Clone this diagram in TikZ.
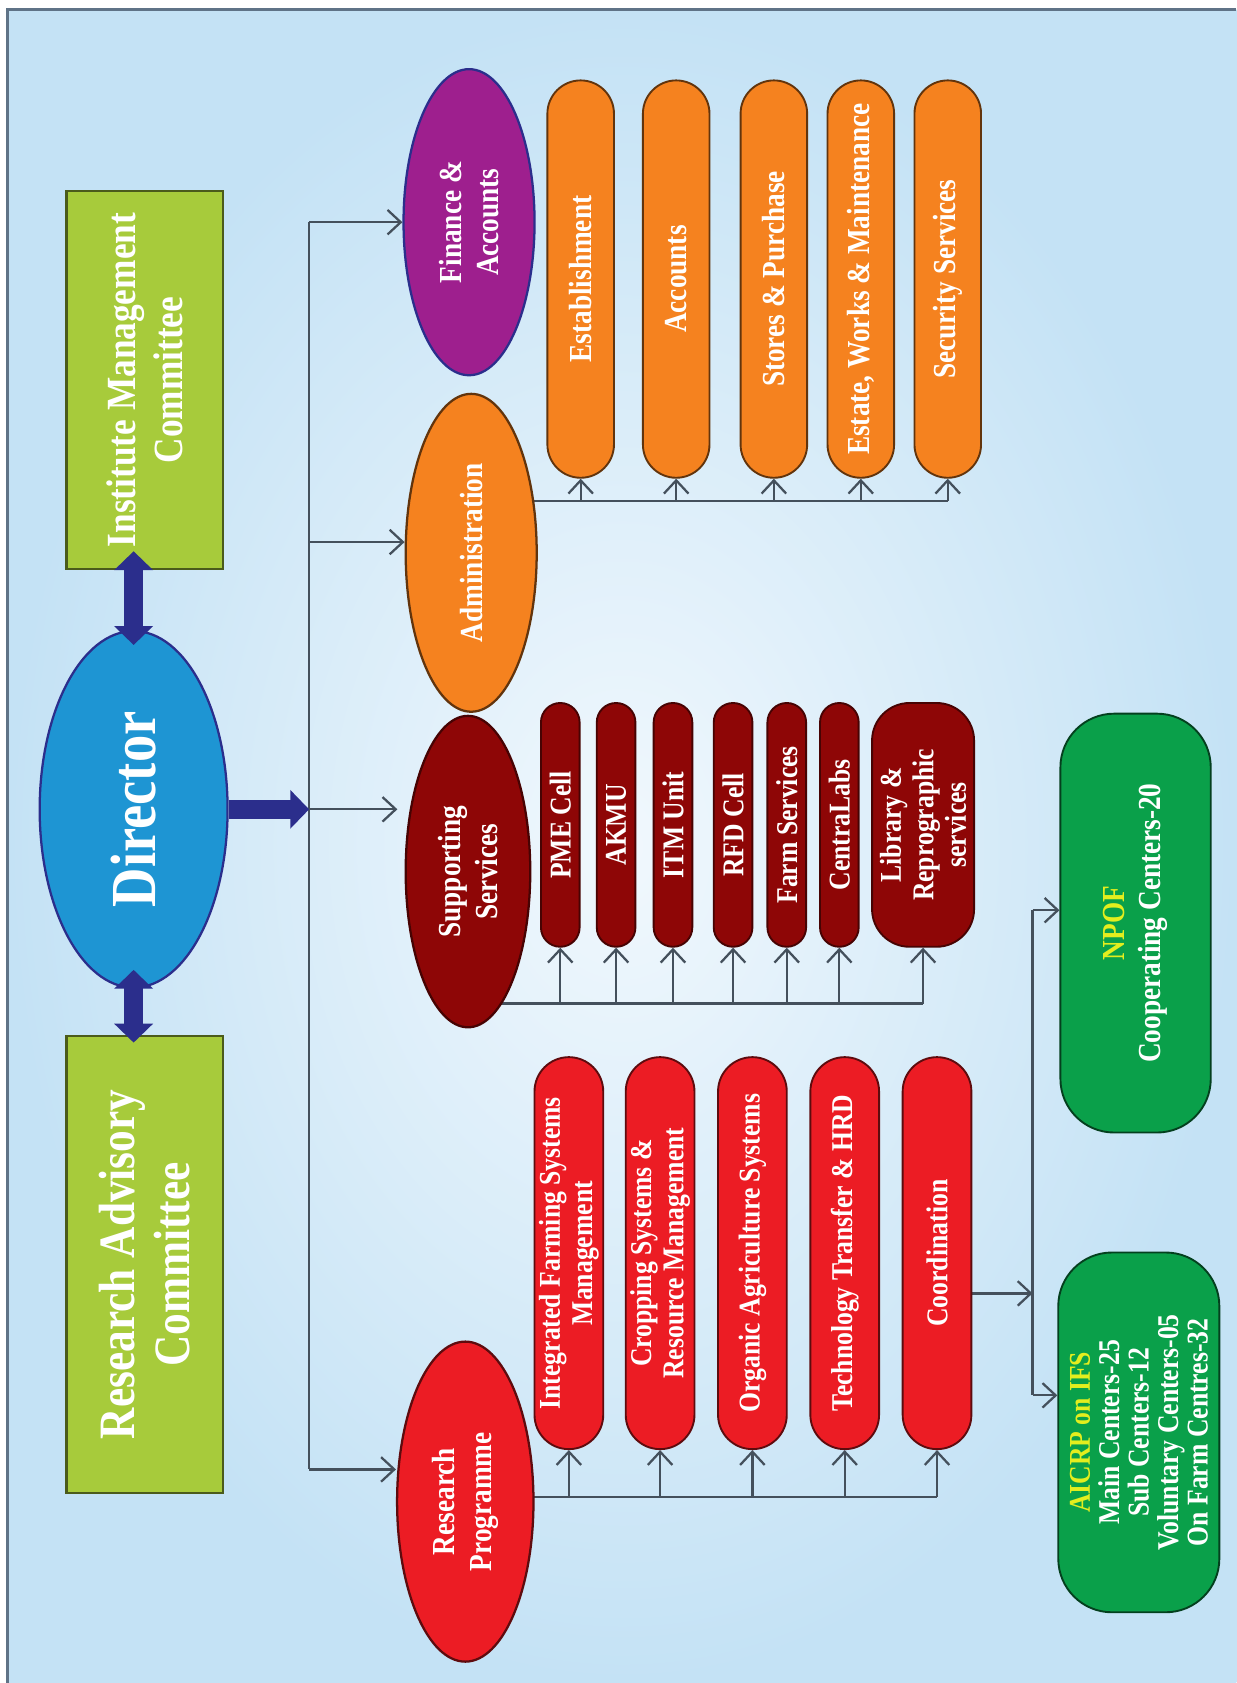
\documentclass[tikz,border=0pt]{standalone}
\usepackage{fontspec}
\setmainfont[FakeStretch=0.85]{Liberation Serif}
\usetikzlibrary{arrows.meta,positioning,shapes.geometric}

\pgfdeclarelayer{bg}
\pgfdeclarelayer{wires}
\pgfsetlayers{bg,wires,main}

\definecolor{bgblue}{HTML}{C4E2F5}
\definecolor{bglight}{HTML}{F1F8FD}
\definecolor{frame}{HTML}{5F7387}
\definecolor{leaf}{HTML}{A7CB3B}
\definecolor{dirblue}{HTML}{1E95D3}
\definecolor{navy}{HTML}{2B2E8C}
\definecolor{plum}{HTML}{9E1F8E}
\definecolor{tangerine}{HTML}{F5821F}
\definecolor{maroon}{HTML}{8E0606}
\definecolor{scarlet}{HTML}{EC1C24}
\definecolor{grass}{HTML}{0AA04A}
\definecolor{lemon}{HTML}{E3EE1E}
\definecolor{wire}{HTML}{44505C}

\newcommand{\boxfont}[2]{\bfseries\fontsize{#1}{#2}\selectfont}

% all boxes are turned a quarter, so "width" runs up the page
\tikzset{
  box/.style       = {draw, rotate=90, inner sep=0pt, align=center, text=white},
  committee/.style = {box, rectangle, fill=leaf, draw=leaf!45!black,
                      line width=0.6pt, minimum height=1.46cm},
  head/.style      = {box, ellipse, line width=0.6pt},
  unit/.style      = {box, rectangle, line width=0.5pt},
  fat/.style       = {draw=navy, line width=5.2pt},
  bigtip/.tip      = {Triangle[length=5pt,width=10pt]},
  link/.style      = {draw=wire, line width=0.6pt,
                      -{Straight Barb[length=3.5pt,width=6.5pt]}},
  rail/.style      = {draw=wire, line width=0.6pt}
}

\begin{document}
\begin{tikzpicture}[x=0.01cm, y=-0.01cm]
\useasboundingbox (0,0) rectangle (1152,1568);

% backdrop
\begin{pgfonlayer}{bg}
\fill[white] (0,0) rectangle (1152,1568);
\shade[inner color=bglight, outer color=bgblue] (7,9) rectangle (1152,1568);
\draw[frame, line width=0.9pt] (7,1568) -- (7,9) -- (1152,9);
\end{pgfonlayer}

% top level
\node[committee, minimum width=3.52cm, font=\boxfont{11}{12.5}] (imc) at (135,354)
  {Institute Management\\Committee};
\node[head, fill=dirblue, draw=navy, minimum width=3.32cm, minimum height=1.75cm,
  font=\boxfont{17}{20}] (dir) at (124.5,754) {Director};
\node[committee, minimum width=4.25cm, font=\boxfont{13.5}{14.5}] (rac) at (135,1178)
  {Research Advisory\\Committee};

% the four divisions
\node[head, fill=plum, draw=navy, minimum width=2.85cm, minimum height=1.22cm,
  font=\boxfont{8.5}{10}] (fin) at (437,207) {Finance \&\\Accounts};
\node[head, fill=tangerine, draw=tangerine!40!black, minimum width=2.96cm,
  minimum height=1.22cm, font=\boxfont{8.5}{10}] (adm) at (439,515) {Administration};
\node[head, fill=maroon, draw=maroon!50!black, minimum width=2.90cm,
  minimum height=1.16cm, font=\boxfont{8.5}{10}] (sup) at (436,812) {Supporting\\Services};
\node[head, fill=scarlet, draw=scarlet!40!black, minimum width=2.98cm,
  minimum height=1.27cm, font=\boxfont{8.5}{10}] (res) at (433.5,1399) {Research\\Programme};

% administration units
\begin{scope}[every node/.style={unit, fill=tangerine, draw=tangerine!40!black,
  minimum width=3.70cm, minimum height=0.62cm, rounded corners=0.31cm,
  font=\boxfont{8.5}{10}}]
\node (est) at (541,260) {Establishment};
\node (acc) at (630,260) {Accounts};
\node (sto) at (721,260) {Stores \& Purchase};
\node (ewm) at (802,260) {Estate, Works \& Maintenance};
\node (sec) at (883,260) {Security Services};
\end{scope}

% supporting units
\begin{scope}[every node/.style={unit, fill=maroon, draw=maroon!50!black,
  minimum width=2.27cm, minimum height=0.36cm, rounded corners=0.18cm,
  font=\boxfont{8}{9}}]
\node (pme) at (522,768.5) {PME Cell};
\node (akmu) at (574,768.5) {AKMU};
\node (itm) at (627,768.5) {ITM Unit};
\node (rfd) at (683,768.5) {RFD Cell};
\node (frm) at (733,768.5) {Farm Services};
\node (lab) at (782,768.5) {CentraLabs};
\node[minimum height=0.95cm, rounded corners=0.35cm, font=\boxfont{8}{8.6}] (lib)
  at (860,768.5) {Library \&\\Reprographic\\services};
\end{scope}

% research units
\begin{scope}[every node/.style={unit, fill=scarlet, draw=scarlet!40!black,
  minimum width=3.65cm, minimum height=0.64cm, rounded corners=0.32cm,
  font=\boxfont{8}{8.6}}]
\node (ifs) at (530,1167.5) {Integrated Farming Systems\\Management};
\node (csr) at (615,1167.5) {Cropping Systems \&\\Resource Management};
\node (oas) at (701,1167.5) {Organic Agriculture Systems};
\node (tth) at (787,1167.5) {Technology Transfer \& HRD};
\node (coo) at (873,1167.5) {Coordination};
\end{scope}

% coordinated projects
\node[unit, fill=grass, draw=grass!40!black, minimum width=3.90cm, minimum height=1.40cm,
  rounded corners=0.5cm, font=\boxfont{8.5}{9.5}] (npof) at (1058,860)
  {\textcolor{lemon}{NPOF}\\Cooperating Centers-20};
\node[unit, fill=grass, draw=grass!40!black, minimum width=3.35cm, minimum height=1.50cm,
  rounded corners=0.5cm, font=\boxfont{8}{7.8}] (aicrp) at (1061,1334.5)
  {\textcolor{lemon}{AICRP on IFS}\\Main Centers-25\\Sub Centers-12\\Voluntary Centers-05\\On Farm Centres-32};

% junction points
\coordinate (bus) at (288,754);
\coordinate (jfin) at (288,207);
\coordinate (jadm) at (288,505);
\coordinate (jres) at (288,1369);
\coordinate (admrail) at (500,467);
\coordinate (suprail) at (480,935);
\coordinate (resrail) at (480,1395);
\coordinate (coordj) at (962,1205);
\coordinate (jnpof) at (962,848);
\coordinate (jaic) at (962,1300);

% director and the committees (heads run into the boxes)
\draw[fat, {bigtip}-{bigtip}, shorten <=-5pt, shorten >=-4pt]
  (dir.east |- imc.west) -- (dir.east);
\draw[fat, {bigtip}-{bigtip}, shorten <=-5pt, shorten >=-2pt]
  (dir.west) -- (dir.west |- rac.east);
\draw[fat, -{bigtip}] (dir.south) -- (bus);

\begin{pgfonlayer}{wires}
% main bus to the divisions
\draw[rail] (jfin) -- (jres);
\foreach \n/\j in {fin/jfin, adm/jadm, res/jres}
  \draw[link] (\j) -- (\n.north |- \j);
\draw[link, shorten >=1.9pt] (bus) -- (sup.north |- bus);

% division rails
\draw[rail] (adm.center |- admrail) -- (sec.west |- admrail);
\foreach \n in {est,acc,sto,ewm,sec}
  \draw[link] (\n.west |- admrail) -- (\n.west);

\draw[rail] (sup.center |- suprail) -- (lib.west |- suprail);
\foreach \n in {pme,akmu,itm,rfd,frm,lab,lib}
  \draw[link] (\n.west |- suprail) -- (\n.west);

\draw[rail] (res.center |- resrail) -- (coo.west |- resrail);
\foreach \n in {ifs,csr,oas,tth,coo}
  \draw[link] (\n.west |- resrail) -- (\n.west);

% coordination to the projects
\draw[link] (coo.south |- coordj) -- (coordj);
\draw[rail] (jnpof) -- (jaic);
\draw[link] (jnpof) -- (npof.north |- jnpof);
\draw[link] (jaic) -- (aicrp.north |- jaic);
\end{pgfonlayer}
\end{tikzpicture}
\end{document}
